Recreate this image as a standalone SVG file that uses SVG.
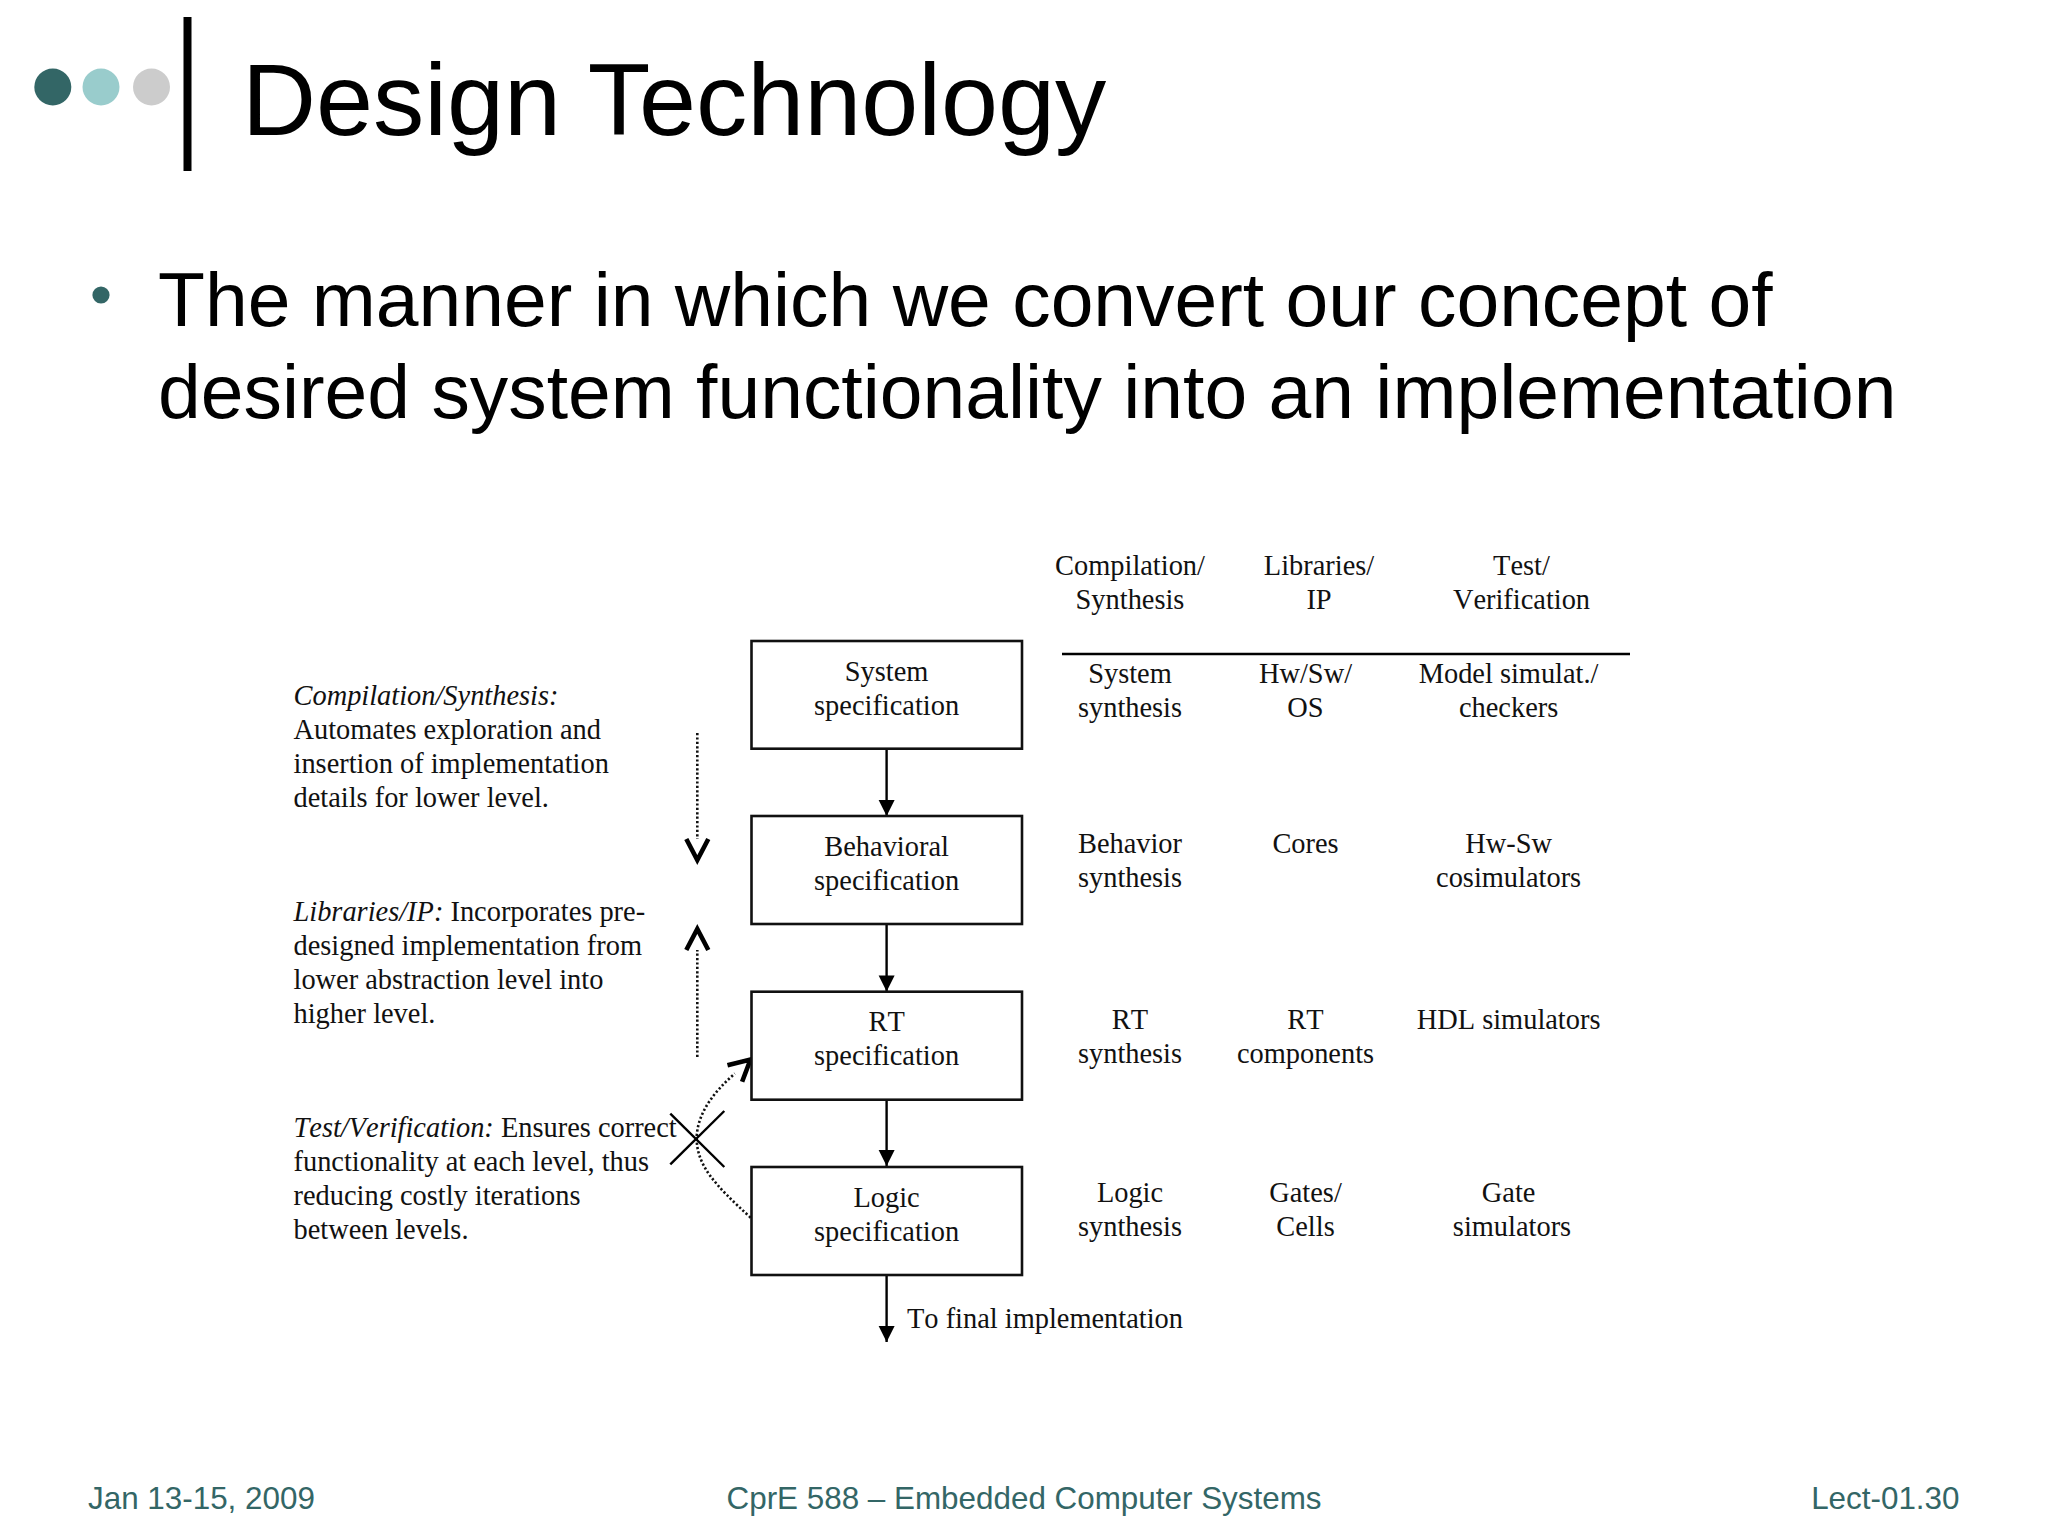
<svg xmlns="http://www.w3.org/2000/svg" width="2048" height="1536" viewBox="0 0 2048 1536">
<style>
.sans{font-family:"Liberation Sans",Arial,sans-serif;fill:#000}
.serif{font-family:"Liberation Serif","Times New Roman",serif;font-size:28.4px;font-kerning:none;fill:#111}
.c{text-anchor:middle}
.i{font-style:italic}
.foot{font-family:"Liberation Sans",Arial,sans-serif;font-size:31.4px;fill:#336666}
.box{fill:#fff;stroke:#111;stroke-width:2.6}
.solid{fill:none;stroke:#000;stroke-width:2.4}
.dotted{fill:none;stroke:#111;stroke-width:2.6;stroke-dasharray:2.2 2.2}
</style>
<defs>
<marker id="head" markerUnits="userSpaceOnUse" markerWidth="17" markerHeight="16" refX="16" refY="8" orient="auto" overflow="visible"><path d="M0 0L16 8L0 16Z" fill="#000"/></marker>
<marker id="open" markerUnits="userSpaceOnUse" markerWidth="24" markerHeight="24" refX="0" refY="11" orient="auto" overflow="visible"><path d="M0 0L21 11L0 22" fill="none" stroke="#000" stroke-width="4.6"/></marker>
</defs>
<rect width="2048" height="1536" fill="#fff"/>
<g id="header">
<circle cx="52.8" cy="87" r="18.5" fill="#336666"/>
<circle cx="101" cy="87" r="18.5" fill="#99CCCC"/>
<circle cx="151.5" cy="87" r="18.5" fill="#CCCCCC"/>
<rect x="183.5" y="17" width="8" height="154" fill="#000"/>
<text class="sans" x="242" y="134.5" font-size="102.5">Design Technology</text>
</g>
<g id="bullet">
<circle cx="101" cy="295" r="8.6" fill="#336666"/>
<text class="sans" x="158" y="326.4" font-size="76.85">The manner in which we convert our concept of</text>
<text class="sans" x="158" y="417.9" font-size="76.85">desired system functionality into an implementation</text>
</g>
<g id="table-head">
<text class="serif c" x="1130" y="574.7">Compilation/</text>
<text class="serif c" x="1130" y="608.5">Synthesis</text>
<text class="serif c" x="1319" y="574.7">Libraries/</text>
<text class="serif c" x="1319" y="608.5">IP</text>
<text class="serif c" x="1521.5" y="574.7">Test/</text>
<text class="serif c" x="1521.5" y="608.5">Verification</text>
<line class="solid" x1="1062" y1="654" x2="1630" y2="654"/>
</g>
<g id="connectors">
<line class="solid" x1="886.6" y1="749" x2="886.6" y2="816" marker-end="url(#head)"/>
<line class="solid" x1="886.6" y1="924" x2="886.6" y2="991.5" marker-end="url(#head)"/>
<line class="solid" x1="886.6" y1="1100" x2="886.6" y2="1166" marker-end="url(#head)"/>
<line class="solid" x1="886.6" y1="1275" x2="886.6" y2="1342" marker-end="url(#head)"/>
<line class="dotted" x1="697.3" y1="733" x2="697.3" y2="839" marker-end="url(#open)"/>
<line class="dotted" x1="697.3" y1="1057" x2="697.3" y2="950" marker-end="url(#open)"/>
<path class="dotted" d="M750.7 1217.7C715 1185 696 1165 696.7 1136.7C698 1112 714 1092 734.8 1073.5" marker-end="url(#open)"/>
<line class="solid" x1="670.3" y1="1113.7" x2="724.3" y2="1167"/>
<line class="solid" x1="670.3" y1="1164.3" x2="724.3" y2="1111"/>
</g>
<g id="system-spec">
<rect class="box" x="751.5" y="641" width="270.5" height="107.7"/>
<text class="serif c" x="886.6" y="680.5">System</text>
<text class="serif c" x="886.6" y="714.5">specification</text>
</g>
<g id="behavioral-spec">
<rect class="box" x="751.5" y="816" width="270.5" height="108"/>
<text class="serif c" x="886.6" y="855.5">Behavioral</text>
<text class="serif c" x="886.6" y="889.5">specification</text>
</g>
<g id="rt-spec">
<rect class="box" x="751.5" y="991.7" width="270.5" height="108"/>
<text class="serif c" x="886.6" y="1031.3">RT</text>
<text class="serif c" x="886.6" y="1065.3">specification</text>
</g>
<g id="logic-spec">
<rect class="box" x="751.5" y="1167" width="270.5" height="108"/>
<text class="serif c" x="886.6" y="1206.5">Logic</text>
<text class="serif c" x="886.6" y="1240.5">specification</text>
</g>
<g id="final-label">
<text class="serif" x="907" y="1327.7">To final implementation</text>
</g>
<g id="desc-compilation">
<text class="serif i" x="293.5" y="704.5">Compilation/Synthesis:</text>
<text class="serif" x="293.5" y="738.5">Automates exploration and</text>
<text class="serif" x="293.5" y="772.5">insertion of implementation</text>
<text class="serif" x="293.5" y="806.5">details for lower level.</text>
</g>
<g id="desc-libraries">
<text class="serif" x="293.5" y="920.5"><tspan class="i">Libraries/IP:</tspan> Incorporates pre-</text>
<text class="serif" x="293.5" y="954.5">designed implementation from</text>
<text class="serif" x="293.5" y="988.5">lower abstraction level into</text>
<text class="serif" x="293.5" y="1022.5">higher level.</text>
</g>
<g id="desc-test">
<text class="serif" x="293.5" y="1136.8"><tspan class="i">Test/Verification:</tspan> Ensures correct</text>
<text class="serif" x="293.5" y="1170.8">functionality at each level, thus</text>
<text class="serif" x="293.5" y="1204.8">reducing costly iterations</text>
<text class="serif" x="293.5" y="1238.8">between levels.</text>
</g>
<g id="row-system">
<text class="serif c" x="1130" y="683">System</text>
<text class="serif c" x="1130" y="717">synthesis</text>
<text class="serif c" x="1305.5" y="683">Hw/Sw/</text>
<text class="serif c" x="1305.5" y="717">OS</text>
<text class="serif c" x="1508.6" y="683">Model simulat./</text>
<text class="serif c" x="1508.6" y="717">checkers</text>
</g>
<g id="row-behavior">
<text class="serif c" x="1130" y="852.7">Behavior</text>
<text class="serif c" x="1130" y="886.7">synthesis</text>
<text class="serif c" x="1305.5" y="852.7">Cores</text>
<text class="serif c" x="1508.6" y="852.7">Hw-Sw</text>
<text class="serif c" x="1508.6" y="886.7">cosimulators</text>
</g>
<g id="row-rt">
<text class="serif c" x="1130" y="1028.5">RT</text>
<text class="serif c" x="1130" y="1062.8">synthesis</text>
<text class="serif c" x="1305.5" y="1028.5">RT</text>
<text class="serif c" x="1305.5" y="1062.8">components</text>
<text class="serif c" x="1508.6" y="1028.5">HDL simulators</text>
</g>
<g id="row-logic">
<text class="serif c" x="1130" y="1201.6">Logic</text>
<text class="serif c" x="1130" y="1235.6">synthesis</text>
<text class="serif c" x="1305.5" y="1201.6">Gates/</text>
<text class="serif c" x="1305.5" y="1235.6">Cells</text>
<text class="serif c" x="1508.6" y="1201.6">Gate</text>
<text class="serif c" x="1512" y="1235.6">simulators</text>
</g>
<g id="footer">
<text class="foot" x="88" y="1509">Jan 13-15, 2009</text>
<text class="foot c" x="1024" y="1509">CprE 588 – Embedded Computer Systems</text>
<text class="foot" x="1959.5" y="1509" text-anchor="end">Lect-01.30</text>
</g>
</svg>
